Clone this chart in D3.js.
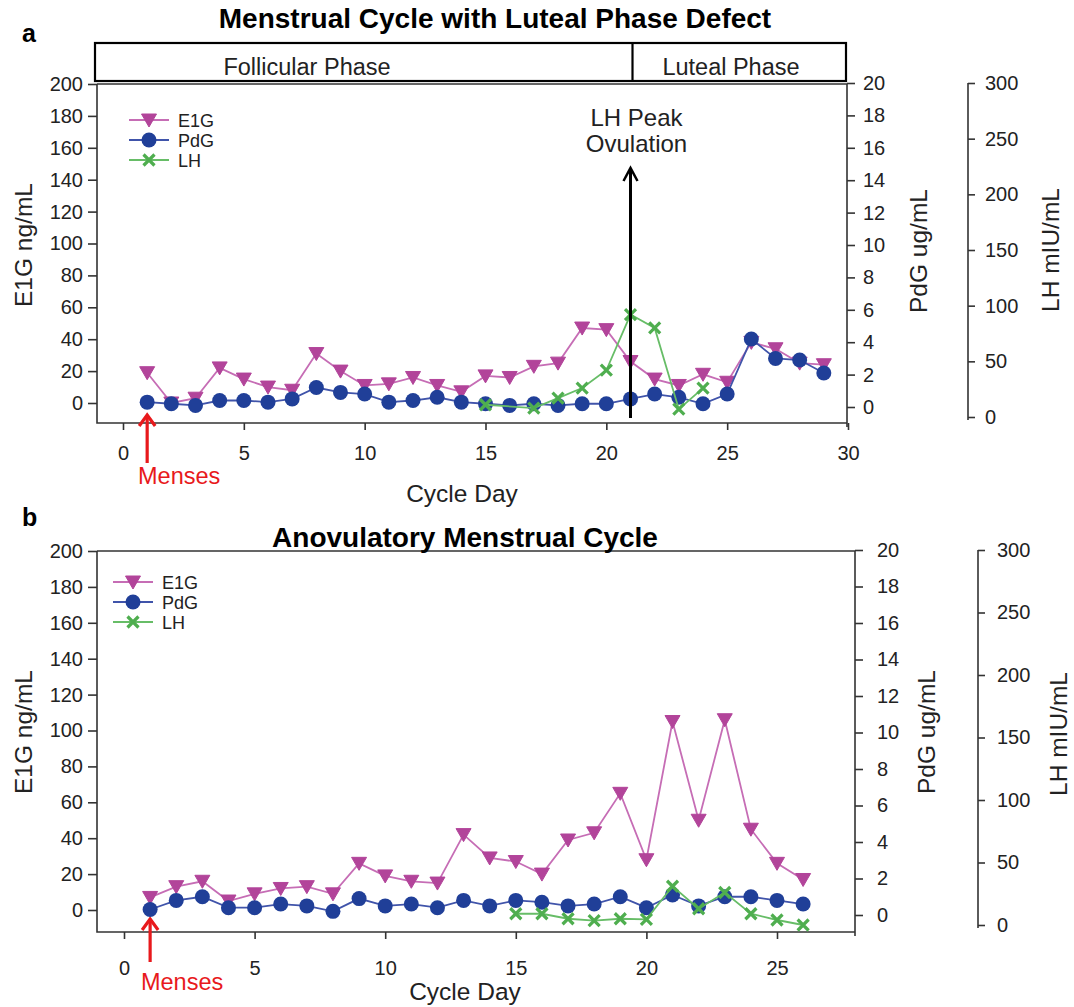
<!DOCTYPE html>
<html><head><meta charset="utf-8">
<script src="https://cdn.jsdelivr.net/npm/d3@7"></script>
<style>
body{margin:0;background:#fff;}
text{font-family:"Liberation Sans",Arial,sans-serif;fill:#222;}
</style></head>
<body>
<svg id="c" width="1074" height="1007"></svg>
<script>
// ---------- Data ----------
const daysA = d3.range(1, 30);
const e1gA = [19,0,3,22,15,10,8,31,20,11,12,16,11,7,17,16,23,25,47,46,26,15,11,18,13,38,34,25,24];
const pdgA = [0.3,0.2,0.1,0.4,0.4,0.3,0.5,1.2,0.9,0.8,0.3,0.4,0.6,0.3,0.2,0.1,0.2,0.1,0.2,0.2,0.5,0.8,0.6,0.2,0.8,4.2,3.0,2.9,2.1];
const lhDaysA = [15,17,18,19,20,21,22,23,24];
const lhA = [11,8,17,26,42,92,80,7,26];

const daysB = d3.range(1, 27);
const e1gB = [7,13,16,5,9,12,13,9,26,19,16,15,42,29,27,20,39,43,65,28,105,50,106,45,26,17];
const pdgB = [0.3,0.8,1.0,0.4,0.4,0.6,0.5,0.2,0.9,0.5,0.6,0.4,0.8,0.5,0.8,0.7,0.5,0.6,1.0,0.4,1.1,0.5,1.0,1.0,0.8,0.6];
const lhDaysB = [15,16,17,18,19,20,21,22,23,24,25,26];
const lhB = [9,9,5,3.5,5,4.5,31,13,26,9,4,0];

const xTicksA = [0,5,10,15,20,25,30];
const xTicksB = [0,5,10,15,20,25];
const e1gTicks = d3.range(0, 201, 20);
const pdgTicks = d3.range(0, 21, 2);
const lhTicks = d3.range(0, 301, 50);
const seriesNames = ["E1G","PdG","LH"];

const C = {e1g:"#b2449a", e1gLine:"#c66db5", pdg:"#203f98", pdgLine:"#4054aa", lh:"#4fae4f", lhLine:"#67bd67"};
const TICK_FS = "20px", TITLE_FS = "24.5px";

const svg = d3.select("#c");

function triangle(g, x, y){
  g.append("path").attr("d", `M${x-7.5},${y-6} L${x+7.5},${y-6} L${x},${y+7} Z`)
    .attr("fill", C.e1g).attr("stroke", C.e1g).attr("stroke-width",1);
}
function circle(g, x, y){
  g.append("circle").attr("cx",x).attr("cy",y).attr("r",7.5).attr("fill",C.pdg);
}
function cross(g, x, y){
  const s=5.5;
  g.append("path").attr("d",`M${x-s},${y-s}L${x+s},${y+s}M${x-s},${y+s}L${x+s},${y-s}`)
    .attr("stroke",C.lh).attr("stroke-width",3.2).attr("fill","none");
}

function panel(cfg){
  const g = svg.append("g");
  const x = d3.scaleLinear().domain([0, cfg.xMaxTick]).range([cfg.x0, cfg.xEnd]);
  const yE = d3.scaleLinear().domain([0,200]).range([cfg.yE0, cfg.top]);
  const yP = d3.scaleLinear().domain([0,20]).range([cfg.yP0, cfg.top-1]);
  const yL = d3.scaleLinear().domain([0,300]).range([cfg.yL0, cfg.top-1]);

  g.append("path").attr("d",`M${cfg.left},${cfg.top}H${cfg.right}V${cfg.bottom+4}M${cfg.left},${cfg.top}V${cfg.bottom}H${cfg.right}`)
    .attr("fill","none").attr("stroke","#333").attr("stroke-width",1.6);

  const la = g.append("g").attr("transform",`translate(${cfg.left},0)`)
    .call(d3.axisLeft(yE).tickValues(e1gTicks).tickSize(9).tickPadding(5));
  const ba = g.append("g").attr("transform",`translate(0,${cfg.bottom})`)
    .call(d3.axisBottom(x).tickValues(cfg.xTicks).tickSize(7).tickPadding(cfg.xPad));
  const pa = g.append("g").attr("transform",`translate(${cfg.right},0)`)
    .call(d3.axisRight(yP).tickValues(pdgTicks).tickSize(8).tickPadding(cfg.pPad));
  const lha = g.append("g").attr("transform",`translate(${cfg.lhX},0)`)
    .call(d3.axisRight(yL).tickValues(lhTicks).tickSize(7).tickPadding(cfg.lPad));
  [la,ba,pa,lha].forEach(a=>{
    a.select(".domain").remove();
    a.selectAll("line").attr("stroke","#333").attr("stroke-width",1.6);
    a.selectAll("text").style("font-size",TICK_FS).attr("fill","#222");
  });
  lha.append("line").attr("x1",0).attr("x2",0).attr("y1",yL(300)).attr("y2",yL(0)+3).attr("stroke","#333").attr("stroke-width",1.6);

  g.append("text").attr("transform",`translate(${cfg.eTitleX},${cfg.eTitleY}) rotate(-90)`).attr("text-anchor","middle").style("font-size",TITLE_FS).text("E1G ng/mL");
  g.append("text").attr("transform",`translate(${cfg.pTitleX},${cfg.pTitleY}) rotate(-90)`).attr("text-anchor","middle").style("font-size",TITLE_FS).text("PdG ug/mL");
  g.append("text").attr("transform",`translate(${cfg.lTitleX},${cfg.lTitleY}) rotate(-90)`).attr("text-anchor","middle").style("font-size",TITLE_FS).text("LH mIU/mL");
  g.append("text").attr("x",cfg.cdX).attr("y",cfg.cdY).attr("text-anchor","middle").style("font-size",TITLE_FS).text("Cycle Day");

  const mx = x(1);
  g.append("line").attr("x1",mx).attr("x2",mx).attr("y1",cfg.mensArrowBot).attr("y2",cfg.mensArrowTop+2).attr("stroke","#e8191c").attr("stroke-width",3.2);
  g.append("path").attr("d",`M${mx-8},${cfg.mensArrowTop+11}L${mx},${cfg.mensArrowTop}L${mx+8},${cfg.mensArrowTop+11}`).attr("fill","none").attr("stroke","#e8191c").attr("stroke-width",3.2);
  g.append("text").attr("x",mx+32).attr("y",cfg.mensY).attr("text-anchor","middle").style("font-size","23.5px").style("fill","#e8191c").text("Menses");

  const line = (ys, sx)=> d3.line().x((d,i)=>x(sx[i])).y(d=>ys(d));
  g.append("path").datum(cfg.e1g).attr("d", line(yE, cfg.days)).attr("fill","none").attr("stroke",C.e1gLine).attr("stroke-width",1.8);
  cfg.e1g.forEach((v,i)=>triangle(g, x(cfg.days[i]), yE(v)));
  g.append("path").datum(cfg.pdg).attr("d", line(yP, cfg.days)).attr("fill","none").attr("stroke",C.pdgLine).attr("stroke-width",1.8);
  cfg.pdg.forEach((v,i)=>circle(g, x(cfg.days[i]), yP(v)));
  g.append("path").datum(cfg.lh).attr("d", line(yL, cfg.lhDays)).attr("fill","none").attr("stroke",C.lhLine).attr("stroke-width",1.8);
  cfg.lh.forEach((v,i)=>cross(g, x(cfg.lhDays[i]), yL(v)));

  const lg = g.append("g");
  seriesNames.forEach((n,i)=>{
    const yy = cfg.legY + i*20;
    const col = [C.e1gLine,C.pdgLine,C.lhLine][i];
    lg.append("line").attr("x1",cfg.legX-20).attr("x2",cfg.legX+20).attr("y1",yy).attr("y2",yy).attr("stroke",col).attr("stroke-width",2);
    if(i===0) triangle(lg,cfg.legX,yy); else if(i===1) circle(lg,cfg.legX,yy); else cross(lg,cfg.legX,yy);
    lg.append("text").attr("x",cfg.legX+29).attr("y",yy+6.5).style("font-size","18px").text(n);
  });

  g.append("text").attr("x",cfg.tX).attr("y",cfg.tY).attr("text-anchor","middle").style("font-size","28px").style("font-weight","bold").style("fill","#000").text(cfg.title);
  g.append("text").attr("x",22).attr("y",cfg.letterY).style("font-size","25px").style("font-weight","bold").style("fill","#000").text(cfg.letter);
  return {g,x,yE,yP,yL};
}

const A = panel({
  x0:123, xEnd:848, xMaxTick:30, xTicks:xTicksA, xPad:16,
  left:97, right:847, top:84, bottom:423,
  yE0:403, yP0:407, yL0:417, lhX:968, pPad:8, lPad:10,
  eTitleX:32, eTitleY:245, pTitleX:927, pTitleY:251, lTitleX:1059, lTitleY:250,
  cdX:462, cdY:502, mensArrowTop:415, mensArrowBot:463, mensY:484,
  days:daysA, e1g:e1gA, pdg:pdgA, lhDays:lhDaysA, lh:lhA,
  legX:149, legY:120,
  title:"Menstrual Cycle with Luteal Phase Defect", tX:495, tY:28, letter:"a", letterY:42
});

const pb = A.g.append("g");
pb.append("rect").attr("x",95).attr("y",43).attr("width",751).attr("height",38).attr("fill","none").attr("stroke","#000").attr("stroke-width",2.2);
pb.append("line").attr("x1",A.x(21)+2).attr("x2",A.x(21)+2).attr("y1",43).attr("y2",81).attr("stroke","#000").attr("stroke-width",2.2);
pb.append("text").attr("x",307).attr("y",75).attr("text-anchor","middle").style("font-size","23.5px").text("Follicular Phase");
pb.append("text").attr("x",731).attr("y",75).attr("text-anchor","middle").style("font-size","23.5px").text("Luteal Phase");

const px = A.x(21);
A.g.append("line").attr("x1",px).attr("x2",px).attr("y1",418).attr("y2",170).attr("stroke","#000").attr("stroke-width",3);
A.g.append("path").attr("d",`M${px-7},${181}L${px},${168}L${px+7},${181}`).attr("fill","none").attr("stroke","#000").attr("stroke-width",2.5);
A.g.append("text").attr("x",px+6).attr("y",126).attr("text-anchor","middle").style("font-size","24px").text("LH Peak");
A.g.append("text").attr("x",px+6).attr("y",152).attr("text-anchor","middle").style("font-size","24px").text("Ovulation");

const B = panel({
  x0:124, xEnd:777, xMaxTick:25, xTicks:xTicksB, xPad:22,
  left:97, right:855, top:551, bottom:932,
  yE0:910, yP0:915, yL0:925, lhX:978, pPad:14, lPad:12,
  eTitleX:32, eTitleY:732, pTitleX:935, pTitleY:732, lTitleX:1067, lTitleY:734,
  cdX:465, cdY:1000, mensArrowTop:919, mensArrowBot:962, mensY:990,
  days:daysB, e1g:e1gB, pdg:pdgB, lhDays:lhDaysB, lh:lhB,
  legX:133, legY:582,
  title:"Anovulatory Menstrual Cycle", tX:465, tY:547, letter:"b", letterY:526
});
</script>
</body></html>
